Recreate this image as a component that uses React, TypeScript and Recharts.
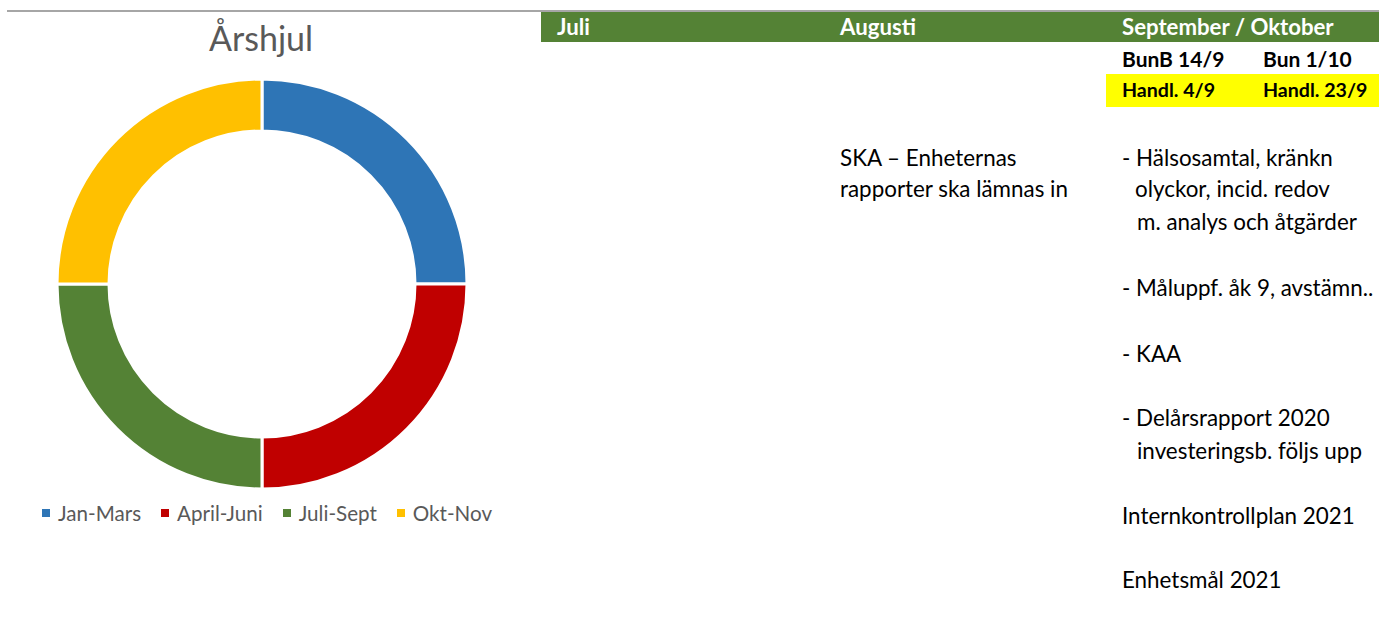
import React from "react";
import { PieChart, Pie, Cell, Legend } from "recharts";

const quarters = ["Jan-Mars", "April-Juni", "Juli-Sept", "Okt-Nov"];
const quarterValues = [25, 25, 25, 25];
const quarterColors = ["#2E75B6", "#C00000", "#548235", "#FFC000"];

const monthHeaders = ["Juli", "Augusti", "September / Oktober"];
const meetingLabels = ["BunB 14/9", "Bun 1/10"];
const handlLabels = ["Handl. 4/9", "Handl. 23/9"];
const augustiLines = ["SKA – Enheternas", "rapporter ska lämnas in"];
const septLines = [
  "- Hälsosamtal, kränkn",
  "  olyckor, incid. redov",
  "   m. analys och åtgärder",
  "- Måluppf. åk 9, avstämn..",
  "- KAA",
  "- Delårsrapport 2020",
  "   investeringsb. följs upp",
  "Internkontrollplan 2021",
  "Enhetsmål 2021",
];

const data = quarters.map((name, i) => ({ name, value: quarterValues[i] }));

const FONT = "Lato, 'Open Sans', sans-serif";

const LegendContent = () => (
  <div
    style={{
      display: "flex",
      fontFamily: FONT,
      fontSize: 20.6,
      color: "#595959",
      lineHeight: "24px",
      whiteSpace: "nowrap",
    }}
  >
    {quarters.map((q, i) => (
      <div key={q} style={{ display: "flex", alignItems: "center", marginRight: 20 }}>
        <span style={{ display: "inline-block", width: 8, height: 8, background: quarterColors[i], marginRight: 8 }} />
        <span>{q}</span>
      </div>
    ))}
  </div>
);

const septBaselines = [166, 197, 230, 296, 362, 426, 459, 524, 588];
const septIndent = [0, 13, 15, 0, 0, 0, 15, 0, 0];

export default function App() {
  return (
    <div style={{ position: "absolute", left: 0, top: 0, width: 1379, height: 623, background: "#fff", overflow: "hidden" }}>
      <div style={{ position: "absolute", left: 0, top: 0 }}>
        <PieChart width={540} height={623} margin={{ top: 0, right: 0, bottom: 0, left: 0 }}>
          <text x={261} y={51} textAnchor="middle" fontFamily={FONT} fontSize={34} fill="#595959">
            Årshjul
          </text>
          <Pie
            data={data}
            dataKey="value"
            nameKey="name"
            cx={262}
            cy={284}
            innerRadius={153}
            outerRadius={205}
            startAngle={90}
            endAngle={-270}
            stroke="#fff"
            strokeWidth={3}
            isAnimationActive={false}
          >
            {data.map((d, i) => (
              <Cell key={d.name} fill={quarterColors[i]} />
            ))}
          </Pie>
          <Legend content={<LegendContent />} wrapperStyle={{ position: "absolute", top: 501, left: 42, width: 480 }} />
        </PieChart>
      </div>
      <svg width={1379} height={623} style={{ position: "absolute", left: 0, top: 0, pointerEvents: "none" }}>
        <rect x={7} y={10} width={1372} height={2} fill="#A6A6A6" />
        <rect x={541} y={12} width={838} height={30} fill="#548235" />
        {monthHeaders.map((h, i) => (
          <text key={h} x={[557, 840, 1122][i]} y={35} fontFamily={FONT} fontSize={22.2} fontWeight={700} fill="#fff">
            {h}
          </text>
        ))}
        {meetingLabels.map((m, i) => (
          <text key={m} x={[1122, 1263][i]} y={67} fontFamily={FONT} fontSize={21} fontWeight={700} fill="#000">
            {m}
          </text>
        ))}
        <rect x={1106} y={74} width={273} height={33} fill="#FFFF00" />
        {handlLabels.map((m, i) => (
          <text key={m} x={[1122, 1263][i]} y={97} fontFamily={FONT} fontSize={19.6} fontWeight={700} fill="#000">
            {m}
          </text>
        ))}
        {augustiLines.map((t, i) => (
          <text key={t} x={840} y={166 + i * 31} fontFamily={FONT} fontSize={22.4} fill="#000">
            {t}
          </text>
        ))}
        {septLines.map((t, i) => (
          <text key={t} x={1122 + septIndent[i]} y={septBaselines[i]} fontFamily={FONT} fontSize={22.4} fill="#000">
            {t.trim()}
          </text>
        ))}
      </svg>
    </div>
  );
}
